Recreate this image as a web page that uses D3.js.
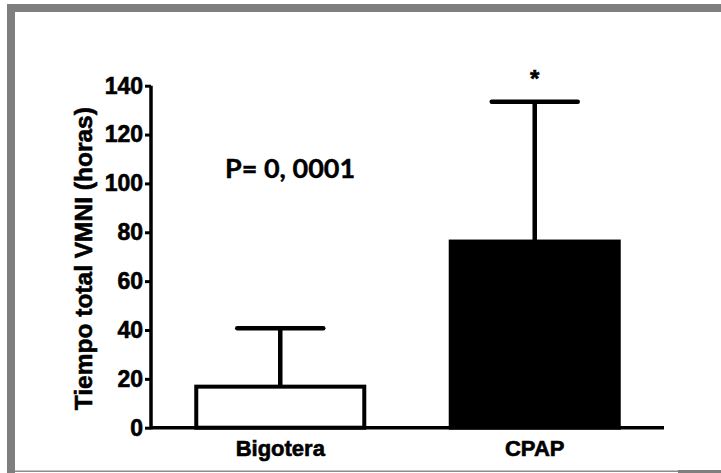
<!DOCTYPE html>
<html>
<head>
<meta charset="utf-8">
<script src="https://cdn.jsdelivr.net/npm/d3@7"></script>
<style>
  body { margin: 0; background: #fff; }
  svg { display: block; }
  .lbl { font-family: Arial, "Liberation Sans", sans-serif; font-weight: bold; fill: #000; stroke: #000; stroke-width: 0.6px; }
</style>
</head>
<body>
<svg id="chart" width="721" height="473"></svg>
<script>
// data
var categories = ["Bigotera", "CPAP"];
var means = [16.8, 76.2];
var errUpper = [40.7, 133.4];
var fills = ["#fff", "#000"];
var yTicks = [0, 20, 40, 60, 80, 100, 120, 140];

var svg = d3.select("#chart");

// slide frame
svg.append("rect").attr("x", 7).attr("y", 4).attr("width", 714).attr("height", 8).attr("fill", "#7f7f7f");
svg.append("rect").attr("x", 7).attr("y", 4).attr("width", 8).attr("height", 469).attr("fill", "#7f7f7f");
svg.append("rect").attr("x", 15).attr("y", 470.5).attr("width", 706).attr("height", 1.5).attr("fill", "#8c8c8c");
svg.append("rect").attr("x", 678).attr("y", 470).attr("width", 43).attr("height", 3).attr("fill", "#7f7f7f");

var x = d3.scaleBand()
	.domain(categories)
	.range([151, 664])
	.paddingInner(0.324)
	.paddingOuter(0.17);

var y = d3.scaleLinear()
	.domain([0, 140])
	.range([427.7, 85.7]);

var g = svg.append("g");

// bars
g.selectAll(".bar")
	.data(categories)
	.enter().append("rect")
	.attr("class", "bar")
	.attr("x", function(d) { return x(d) + 2; })
	.attr("width", x.bandwidth() - 4)
	.attr("y", function(d, i) { return y(means[i]); })
	.attr("height", function(d, i) { return y(0) - y(means[i]); })
	.attr("fill", function(d, i) { return fills[i]; })
	.attr("stroke", "#000")
	.attr("stroke-width", 4);

// error bars
g.selectAll(".err")
	.data(categories)
	.enter().append("line")
	.attr("x1", function(d) { return x(d) + x.bandwidth() / 2; })
	.attr("x2", function(d) { return x(d) + x.bandwidth() / 2; })
	.attr("y1", function(d, i) { return y(means[i]); })
	.attr("y2", function(d, i) { return y(errUpper[i]); })
	.attr("stroke", "#000")
	.attr("stroke-width", 4.5);

g.selectAll(".cap")
	.data(categories)
	.enter().append("line")
	.attr("x1", function(d) { return x(d) + x.bandwidth() / 4; })
	.attr("x2", function(d) { return x(d) + x.bandwidth() * 3 / 4; })
	.attr("y1", function(d, i) { return y(errUpper[i]); })
	.attr("y2", function(d, i) { return y(errUpper[i]); })
	.attr("stroke", "#000")
	.attr("stroke-width", 4.5)
	.attr("stroke-linecap", "round");

// axes
var yAxis = d3.axisLeft(y).tickValues(yTicks).tickSize(6).tickPadding(2).tickSizeOuter(0);
var ya = svg.append("g")
	.attr("transform", "translate(151,0)")
	.call(yAxis);
ya.select(".domain").attr("stroke-width", 3.5).attr("d", "M0," + (y(0) + 1.5) + "V" + y(140));
ya.selectAll(".tick line").attr("stroke-width", 3);
ya.selectAll(".tick text")
	.attr("class", "lbl")
	.style("font-size", "23px");

var xAxis = d3.axisBottom(x).tickSize(0).tickPadding(0);
var xa = svg.append("g")
	.attr("transform", "translate(0," + y(0) + ")")
	.call(xAxis);
xa.select(".domain").attr("stroke-width", 3.5).attr("d", "M151,0H664");
xa.selectAll(".tick text")
	.attr("dy", null)
	.attr("y", 28)
	.attr("class", "lbl")
	.style("font-size", "22px");

// y label
svg.append("text")
	.attr("class", "lbl")
	.attr("transform", "translate(92," + ((y(0) + y(140)) / 2 + 2) + ") rotate(-90)")
	.attr("text-anchor", "middle")
	.style("font-size", "24.5px")
	.text("Tiempo total VMNI (horas)");

// annotations
svg.append("text")
	.attr("x", 225)
	.attr("y", 178)
	.style("font-family", "Lato")
	.style("font-weight", "bold")
	.style("font-size", "27px")
	.attr("stroke", "#000")
	.attr("stroke-width", 0.4)
	.text("P= 0, 0001");

svg.append("text")
	.attr("class", "lbl")
	.attr("x", x("CPAP") + x.bandwidth() / 2)
	.attr("y", 87)
	.attr("text-anchor", "middle")
	.style("font-size", "24px")
	.text("*");
</script>
</body>
</html>
